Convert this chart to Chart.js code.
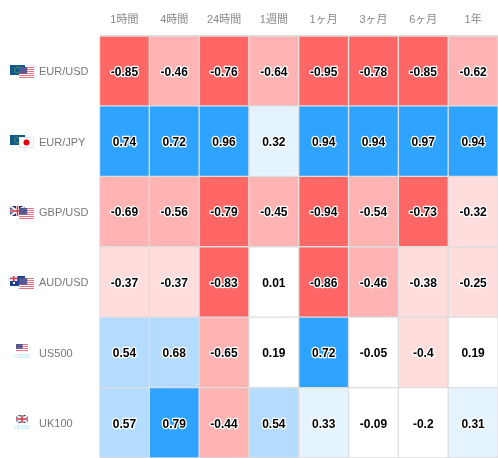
<!DOCTYPE html>
<html>
<head>
<meta charset="utf-8">
<script src="https://cdn.jsdelivr.net/npm/chart.js@4"></script>
<style>
  html, body { margin: 0; padding: 0; background: #fff; }
  #wrap { width: 498px; height: 458px; }
</style>
</head>
<body>
<div id="wrap"><canvas id="heat"></canvas></div>
<script>
const periods = ['1時間', '4時間', '24時間', '1週間', '1ヶ月', '3ヶ月', '6ヶ月', '1年'];
const symbols = ['EUR/USD', 'EUR/JPY', 'GBP/USD', 'AUD/USD', 'US500', 'UK100'];

const eurUsd = [-0.85, -0.46, -0.76, -0.64, -0.95, -0.78, -0.85, -0.62];
const eurJpy = [0.74, 0.72, 0.96, 0.32, 0.94, 0.94, 0.97, 0.94];
const gbpUsd = [-0.69, -0.56, -0.79, -0.45, -0.94, -0.54, -0.73, -0.32];
const audUsd = [-0.37, -0.37, -0.83, 0.01, -0.86, -0.46, -0.38, -0.25];
const us500 = [0.54, 0.68, -0.65, 0.19, 0.72, -0.05, -0.4, 0.19];
const uk100 = [0.57, 0.79, -0.44, 0.54, 0.33, -0.09, -0.2, 0.31];
const rows = [eurUsd, eurJpy, gbpUsd, audUsd, us500, uk100];

// 相関の強さで色分け
function cellColor(v) {
  const a = Math.abs(v);
  if (v < 0) {
    if (a >= 0.7) return '#ff6666';
    if (a > 0.4) return '#ffb3b3';
    if (a > 0.2) return '#ffdddd';
  } else {
    if (a >= 0.7) return '#2ea3ff';
    if (a > 0.4) return '#b3dcff';
    if (a > 0.2) return '#e5f3ff';
  }
  return '#ffffff';
}

function flagEu(c, x, y, w, h) {
  c.fillStyle = '#0f5a8c'; c.fillRect(x, y, w, h);
  c.strokeStyle = '#5d8a5a'; c.lineWidth = 1;
  c.beginPath(); c.arc(x + w / 2, y + h / 2, 3, 0, Math.PI * 2); c.stroke();
}
function flagUs(c, x, y, w, h) {
  c.fillStyle = '#ffffff'; c.fillRect(x, y, w, h);
  c.fillStyle = '#e8737f';
  for (let i = 0; i < h; i += 2) c.fillRect(x, y + i, w, 1);
  c.fillStyle = '#55598f'; c.fillRect(x, y, w * 0.55, h * 0.6);
}
function flagJp(c, x, y, w, h) {
  c.fillStyle = '#ffffff'; c.fillRect(x, y, w, h);
  c.strokeStyle = '#e6e6e6'; c.lineWidth = 1; c.strokeRect(x + 0.5, y + 0.5, w - 1, h - 1);
  c.fillStyle = '#e60012';
  c.beginPath(); c.arc(x + w / 2, y + h / 2, 3, 0, Math.PI * 2); c.fill();
}
function flagUk(c, x, y, w, h) {
  c.fillStyle = '#27306e'; c.fillRect(x, y, w, h);
  c.save();
  c.beginPath(); c.rect(x, y, w, h); c.clip();
  c.strokeStyle = '#f2f2f2'; c.lineWidth = 2;
  c.beginPath(); c.moveTo(x, y); c.lineTo(x + w, y + h); c.moveTo(x + w, y); c.lineTo(x, y + h); c.stroke();
  c.lineWidth = 3;
  c.beginPath(); c.moveTo(x + w / 2, y); c.lineTo(x + w / 2, y + h); c.moveTo(x, y + h / 2); c.lineTo(x + w, y + h / 2); c.stroke();
  c.strokeStyle = '#d8384a'; c.lineWidth = 1.5;
  c.beginPath(); c.moveTo(x + w / 2, y); c.lineTo(x + w / 2, y + h); c.moveTo(x, y + h / 2); c.lineTo(x + w, y + h / 2); c.stroke();
  c.restore();
}
function flagAu(c, x, y, w, h) {
  c.fillStyle = '#1f3f8f'; c.fillRect(x, y, w, h);
  flagUk(c, x, y, w * 0.5, h * 0.5);
  c.fillStyle = '#f2f2f2'; c.fillRect(x + 3, y + 6, 2, 2); c.fillRect(x + 10, y + 3, 1, 1); c.fillRect(x + 11, y + 6, 1, 1);
}
const flagSets = [
  [flagEu, flagUs], [flagEu, flagJp], [flagUk, flagUs], [flagAu, flagUs], [flagUs], [flagUk]
];
const flagNotes = [null, null, null, null, 'US500', 'UK100'];

const cellLabels = {
  id: 'cellLabels',
  afterDatasetsDraw(chart) {
    const c = chart.ctx, xs = chart.scales.x, ys = chart.scales.y;
    c.save();
    c.textAlign = 'center';
    c.textBaseline = 'middle';
    c.font = 'bold 12px "Liberation Sans", Arial, sans-serif';
    c.lineJoin = 'round';
    rows.forEach((row, r) => {
      const y = ys.getPixelForValue(r + 0.5) + 1.5;
      row.forEach((v, i) => {
        const x = xs.getPixelForValue(i);
        c.strokeStyle = '#ffffff';
        c.lineWidth = 2.5;
        c.strokeText(String(v), x, y);
        c.fillStyle = '#000000';
        c.fillText(String(v), x, y);
      });
    });
    // 通貨ペア名と国旗
    symbols.forEach((s, r) => {
      const y = ys.getPixelForValue(r + 0.5);
      c.textAlign = 'left';
      c.font = '11px "Liberation Sans", Arial, sans-serif';
      c.fillStyle = '#777777';
      c.fillText(s, 39, y + 1.5);
      const flags = flagSets[r];
      if (flags.length === 2) {
        flags[0](c, 10, Math.round(y - 6), 15, 10);
        flags[1](c, 19, Math.round(y - 4), 15, 11);
      } else {
        flags[0](c, 16, Math.round(y) - 8, 12, 8);
        c.textAlign = 'center';
        c.font = '5px "Liberation Sans", Arial, sans-serif';
        c.fillStyle = '#a5e0f5';
        c.fillText(flagNotes[r], 22, Math.round(y) + 5);
      }
    });
    c.restore();
  }
};

new Chart(document.getElementById('heat'), {
  type: 'bar',
  data: {
    labels: periods,
    datasets: rows.map((row, r) => ({
      label: symbols[r],
      data: row.map(() => [r, r + 1]),
      backgroundColor: row.map(cellColor),
      borderColor: '#dddddd',
      borderWidth: 1,
      borderSkipped: false,
      grouped: false,
      barPercentage: 1,
      categoryPercentage: 1
    }))
  },
  options: {
    responsive: true,
    maintainAspectRatio: false,
    animation: false,
    layout: { padding: 0 },
    plugins: {
      legend: { display: false },
      title: { display: false },
      tooltip: { enabled: false }
    },
    scales: {
      x: {
        position: 'top',
        afterFit(scale) { scale.height = 35.5; },
        border: { display: false },
        grid: { color: '#eeeeee', drawTicks: false },
        ticks: {
          color: '#888888',
          maxRotation: 0,
          padding: 9,
          font: { size: 11, family: '"Liberation Sans", "Noto Sans CJK JP", sans-serif' }
        }
      },
      y: {
        min: 0,
        max: 6,
        reverse: true,
        afterFit(scale) { scale.width = 99.5; },
        border: { display: false },
        grid: { color: '#dddddd', drawTicks: false },
        ticks: { display: false, stepSize: 1 }
      }
    }
  },
  plugins: [cellLabels]
});
</script>
</body>
</html>
